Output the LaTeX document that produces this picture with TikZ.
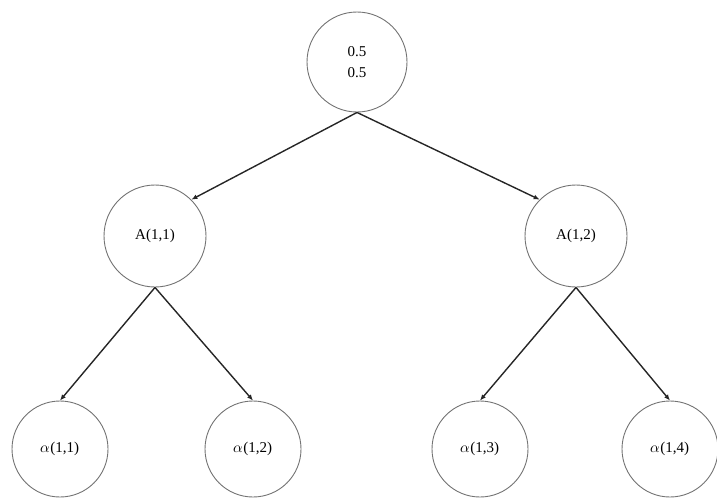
\documentclass[tikz,border=0pt]{standalone}
\usepackage{fontspec}
\setmainfont{Liberation Serif}
\usepackage{unicode-math}
\setmathfont{Latin Modern Math}
\usetikzlibrary{arrows.meta}
\tikzset{
  state/.style={draw=black!55, line width=0.9pt, circle, inner sep=0pt, minimum size=#1, font=\fontsize{15}{21}\selectfont, align=center},
  edge/.style={->, line width=1.4pt, black!85}
}
\begin{document}
\begin{tikzpicture}[x=1pt, y=-1pt, >={Latex[length=6pt,width=5pt]}]
	\useasboundingbox (0,0) rectangle (717,501);
	\node[state=100pt] (root) at (357,62) {0.5\\0.5};
	\node[state=102pt] (a11) at (155,236) {A(1,1)};
	\node[state=102pt] (a12) at (576,236) {A(1,2)};
	\node[state=96pt] (al11) at (60,449) {$\alpha$(1,1)};
	\node[state=96pt] (al12) at (253,449) {$\alpha$(1,2)};
	\node[state=96pt] (al13) at (480,449) {$\alpha$(1,3)};
	\node[state=96pt] (al14) at (670,449) {$\alpha$(1,4)};
	\draw[edge] (root.south) -- (a11.north east);
	\draw[edge] (root.south) -- (a12.north west);
	\foreach \p/\c in {a11/al11, a11/al12, a12/al13, a12/al14}
	  \draw[edge] (\p.south) -- (\c.north);
\end{tikzpicture}
\end{document}
